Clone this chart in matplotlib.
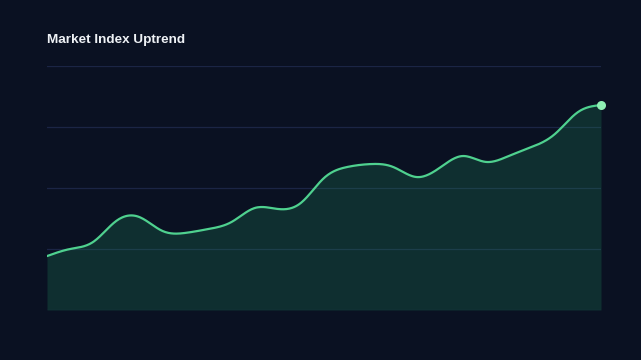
import numpy as np
import matplotlib
matplotlib.use("Agg")
import matplotlib.pyplot as plt

# Data (index level; y-axis 0-100)
periods = list(range(25))
index_values = [22.1, 25.0, 27.9, 36.5, 38.1, 32.4, 31.6, 33.2, 36.1, 41.8,
                41.4, 43.9, 54.1, 58.6, 59.8, 58.6, 54.5, 58.2, 63.1, 60.7,
                63.1, 66.8, 72.1, 81.1, 84.0]
y_ticks = [0, 25, 50, 75, 100]
title = "Market Index Uptrend"

BG = "#0a1122"
LINE = "#4fd18f"
FILL = "#1f8a5c"
GRID = "#1b2545"
MARK = "#8ef0b4"


def natural_spline(x, y, n=600):
    x = np.asarray(x, float)
    y = np.asarray(y, float)
    m = len(x)
    h = np.diff(x)
    A = np.zeros((m, m))
    r = np.zeros(m)
    A[0, 0] = 1
    A[-1, -1] = 1
    for i in range(1, m - 1):
        A[i, i - 1] = h[i - 1]
        A[i, i] = 2 * (h[i - 1] + h[i])
        A[i, i + 1] = h[i]
        r[i] = 3 * ((y[i + 1] - y[i]) / h[i] - (y[i] - y[i - 1]) / h[i - 1])
    c = np.linalg.solve(A, r)
    b = np.zeros(m - 1)
    d = np.zeros(m - 1)
    for i in range(m - 1):
        b[i] = (y[i + 1] - y[i]) / h[i] - h[i] * (2 * c[i] + c[i + 1]) / 3
        d[i] = (c[i + 1] - c[i]) / (3 * h[i])
    xs = np.linspace(x[0], x[-1], n)
    idx = np.clip(np.searchsorted(x, xs) - 1, 0, m - 2)
    dx = xs - x[idx]
    ys = y[idx] + b[idx] * dx + c[idx] * dx ** 2 + d[idx] * dx ** 3
    return xs, ys


fig = plt.figure(figsize=(6.41, 3.6), dpi=100, facecolor=BG)
ax = fig.add_axes([47 / 641, 50 / 360, 554 / 641, 244 / 360])
ax.set_facecolor(BG)

xs, ys = natural_spline(periods, index_values)

for t in y_ticks:
    ax.axhline(t, color=GRID, lw=0.9, zorder=1)

ax.fill_between(xs, 0, ys, color=FILL, alpha=0.25, lw=0, zorder=2)
ax.plot(xs, ys, color=LINE, lw=1.6, zorder=3, solid_capstyle="round")
ax.plot([periods[-1]], [index_values[-1]], "o", color=MARK, ms=6.5, mec="none",
        zorder=4, clip_on=False)

ax.set_xlim(periods[0], periods[-1])
ax.set_ylim(y_ticks[0], y_ticks[-1])
for s in ax.spines.values():
    s.set_visible(False)
ax.set_xticks([])
ax.set_yticks([])

fig.text(47 / 641, 1 - 43 / 360, title, color="#eef1f5", fontsize=9.7,
         fontweight="bold", family="Liberation Sans", ha="left", va="baseline")

fig.savefig("out.png", dpi=100, facecolor=BG)
